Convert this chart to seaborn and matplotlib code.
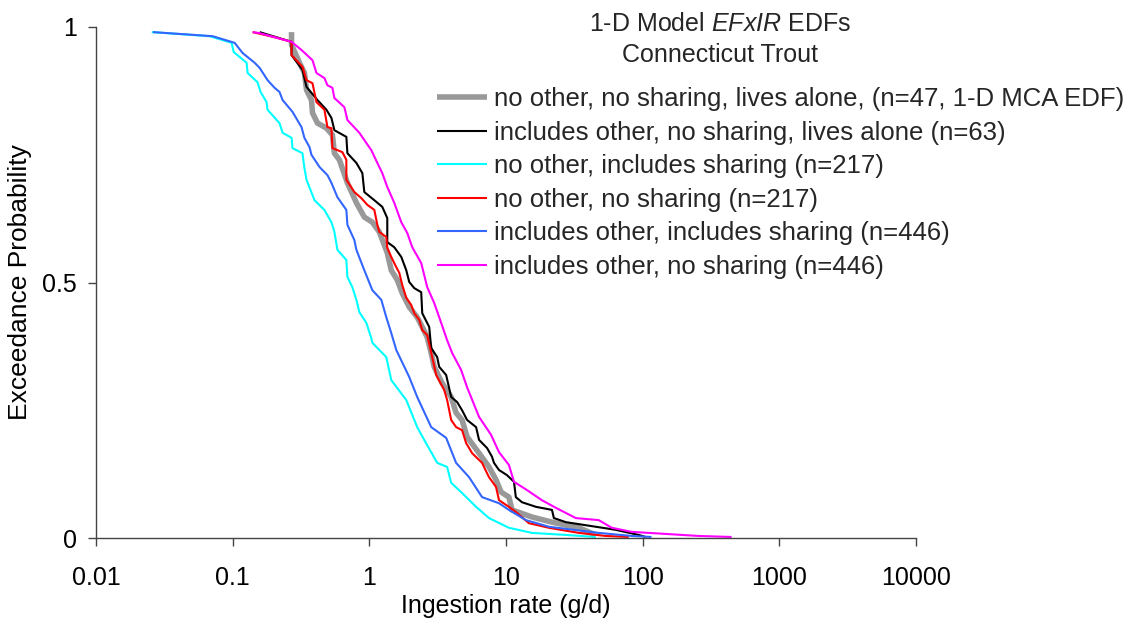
import matplotlib
matplotlib.use("Agg")
import matplotlib.pyplot as plt
import seaborn as sns
import pandas as pd

# ---------------- data ----------------
gray_x = [0.2696, 0.2696, 0.3083, 0.3354, 0.3468, 0.3773, 0.3837, 0.4173, 0.4855, 0.537, 0.555, 0.604,
          0.691, 0.804, 0.919, 1.052, 1.183, 1.353, 1.447, 1.601, 1.742, 1.959, 2.24, 2.438, 2.651, 2.835,
          2.982, 3.41, 3.97, 4.315, 4.77, 5.19, 6.35, 7.51, 8.45, 9.19, 10.5, 11.06, 15.5, 21.7, 34.1, 45.4]
gray_p = [0.990, 0.965, 0.930, 0.910, 0.877, 0.857, 0.832, 0.812, 0.802, 0.789, 0.753, 0.740, 0.695, 0.656,
          0.628, 0.618, 0.599, 0.558, 0.524, 0.505, 0.479, 0.452, 0.432, 0.413, 0.393, 0.362, 0.335, 0.303,
          0.276, 0.245, 0.231, 0.198, 0.166, 0.139, 0.114, 0.090, 0.080, 0.055, 0.041, 0.031, 0.020, 0.006]

black_x = [0.1575, 0.2696, 0.2696, 0.3243, 0.3468, 0.4173, 0.4855, 0.528, 0.555, 0.679, 0.691, 0.804, 0.889,
           0.919, 1.088, 1.244, 1.353, 1.353, 1.522, 1.713, 1.863, 1.959, 2.131, 2.397, 2.438, 2.742, 2.835,
           3.136, 3.243, 3.648, 3.97, 4.39, 4.77, 5.19, 6.04, 6.35, 7.27, 7.90, 8.17, 8.89, 10.17, 11.44, 11.8,
           13.09, 16.56, 21.7, 22.4, 27.4, 38.4, 63.5, 93.5, 105]
black_p = [0.990, 0.971, 0.945, 0.916, 0.883, 0.857, 0.838, 0.822, 0.798, 0.785, 0.753, 0.734, 0.714, 0.677,
           0.661, 0.648, 0.626, 0.579, 0.569, 0.550, 0.524, 0.501, 0.489, 0.481, 0.440, 0.413, 0.372, 0.354,
           0.335, 0.319, 0.276, 0.266, 0.250, 0.231, 0.217, 0.192, 0.176, 0.159, 0.147, 0.133, 0.123, 0.110,
           0.080, 0.070, 0.061, 0.055, 0.039, 0.031, 0.025, 0.016, 0.006, 0.002]

cyan_x = [0.0256, 0.0679, 0.0983, 0.1017, 0.1265, 0.1286, 0.152, 0.160, 0.177, 0.180, 0.220, 0.232, 0.270,
          0.274, 0.324, 0.335, 0.347, 0.397, 0.469, 0.528, 0.555, 0.584, 0.679, 0.691, 0.751, 0.804, 0.845,
          0.951, 1.034, 1.052, 1.331, 1.447, 1.863, 2.24, 2.52, 3.14, 3.71, 3.97, 4.77, 6.04, 7.51, 10.5, 15.5,
          27.4, 45.4]
cyan_p = [0.990, 0.982, 0.969, 0.951, 0.930, 0.910, 0.892, 0.873, 0.853, 0.838, 0.812, 0.793, 0.783, 0.763,
          0.753, 0.724, 0.701, 0.661, 0.642, 0.618, 0.599, 0.564, 0.544, 0.511, 0.491, 0.466, 0.442, 0.421,
          0.391, 0.382, 0.354, 0.309, 0.270, 0.217, 0.192, 0.147, 0.139, 0.108, 0.088, 0.061, 0.039, 0.020,
          0.010, 0.006, 0.002]

red_x = [0.140, 0.2026, 0.2696, 0.2696, 0.3243, 0.3468, 0.3837, 0.4103, 0.4693, 0.4937, 0.528, 0.537, 0.635,
         0.679, 0.679, 0.777, 0.874, 0.967, 1.088, 1.144, 1.183, 1.331, 1.353, 1.447, 1.574, 1.656, 1.742,
         1.863, 2.026, 2.131, 2.317, 2.438, 2.651, 2.884, 3.084, 3.527, 3.71, 3.97, 4.315, 4.77, 5.105, 5.65,
         6.68, 7.51, 8.45, 8.89, 10.5, 11.8, 14.7, 20.6, 34.1, 53.7, 79.0]
red_p = [0.990, 0.980, 0.971, 0.945, 0.922, 0.896, 0.890, 0.853, 0.838, 0.804, 0.802, 0.763, 0.755, 0.740,
         0.701, 0.677, 0.665, 0.652, 0.642, 0.613, 0.599, 0.589, 0.568, 0.550, 0.530, 0.519, 0.495, 0.470,
         0.456, 0.440, 0.427, 0.407, 0.397, 0.354, 0.319, 0.290, 0.270, 0.231, 0.217, 0.211, 0.186, 0.166,
         0.147, 0.119, 0.100, 0.074, 0.061, 0.051, 0.029, 0.020, 0.010, 0.004, 0.002]

blue_x = [0.0261, 0.0714, 0.1034, 0.1183, 0.1448, 0.1575, 0.180, 0.2026, 0.220, 0.232, 0.274, 0.319, 0.335,
          0.365, 0.377, 0.432, 0.494, 0.528, 0.584, 0.679, 0.691, 0.777, 0.804, 0.919, 1.052, 1.224, 1.331,
          1.447, 1.574, 1.959, 2.24, 2.835, 3.648, 4.315, 5.37, 6.68, 8.89, 10.5, 14.0, 20.6, 47.7, 83.2, 116]
blue_p = [0.990, 0.982, 0.969, 0.949, 0.930, 0.920, 0.896, 0.881, 0.873, 0.857, 0.834, 0.804, 0.783, 0.765,
          0.750, 0.726, 0.710, 0.695, 0.667, 0.642, 0.613, 0.583, 0.564, 0.524, 0.485, 0.466, 0.432, 0.401,
          0.368, 0.315, 0.276, 0.217, 0.196, 0.147, 0.119, 0.080, 0.068, 0.055, 0.035, 0.022, 0.010, 0.004,
          0.002]

magenta_x = [0.140, 0.1575, 0.2696, 0.3189, 0.3837, 0.4103, 0.4693, 0.4937, 0.537, 0.555, 0.657, 0.691, 0.845,
             0.951, 1.034, 1.144, 1.244, 1.353, 1.522, 1.713, 1.894, 2.061, 2.397, 2.651, 2.982, 3.354, 3.71,
             4.036, 4.693, 5.19, 6.35, 7.77, 8.89, 10.5, 11.44, 14.2, 18.3, 23.2, 32.4, 47.7, 59.4, 83.2, 147,
             256, 447]
magenta_p = [0.990, 0.988, 0.971, 0.955, 0.935, 0.910, 0.900, 0.886, 0.881, 0.861, 0.843, 0.818, 0.793, 0.773,
             0.759, 0.734, 0.714, 0.687, 0.656, 0.618, 0.597, 0.569, 0.538, 0.491, 0.460, 0.421, 0.387, 0.362,
             0.329, 0.295, 0.237, 0.202, 0.168, 0.143, 0.110, 0.094, 0.074, 0.059, 0.039, 0.035, 0.020, 0.012,
             0.008, 0.004, 0.002]

labels = [
    "no other, no sharing, lives alone, (n=47, 1-D MCA EDF)",
    "includes other, no sharing, lives alone (n=63)",
    "no other, includes sharing (n=217)",
    "no other, no sharing (n=217)",
    "includes other, includes sharing (n=446)",
    "includes other, no sharing (n=446)",
]
x_ticks = [0.01, 0.1, 1, 10, 100, 1000, 10000]
x_tick_labels = ["0.01", "0.1", "1", "10", "100", "1000", "10000"]
y_ticks = [0, 0.5, 1]
y_tick_labels = ["0", "0.5", "1"]

# ---------------- styling ----------------
sns.set_theme(style="white")
plt.rcParams["font.family"] = ["Liberation Sans", "DejaVu Sans"]
plt.rcParams["mathtext.fontset"] = "custom"
plt.rcParams["mathtext.rm"] = "Liberation Sans"
plt.rcParams["mathtext.it"] = "Liberation Sans:italic"

FS = 18
W, H = 1134, 621
fig = plt.figure(figsize=(W / 100, H / 100), dpi=100)
fig.patch.set_facecolor("white")
ax = fig.add_axes([96 / W, 1 - 538 / H, (916 - 96) / W, (538 - 27) / H])
ax.set_facecolor("white")

series = [
    (gray_x, gray_p, "#999999", 4.0),
    (black_x, black_p, "#000000", 1.5),
    (cyan_x, cyan_p, "#00FFFF", 1.5),
    (red_x, red_p, "#FF0000", 1.5),
    (blue_x, blue_p, "#3366FF", 1.5),
    (magenta_x, magenta_p, "#FF00FF", 1.5),
]
for (xs, ps, col, lw), lab in zip(series, labels):
    df = pd.DataFrame({"rate": xs, "prob": ps})
    sns.lineplot(data=df, x="rate", y="prob", ax=ax, sort=False, estimator=None,
                 color=col, linewidth=lw, label=lab, solid_capstyle="butt")

ax.set_xscale("log")
ax.set_xlim(0.01, 10000)
ax.set_ylim(0, 1)
ax.set_xticks(x_ticks)
ax.set_xticklabels(x_tick_labels)
ax.xaxis.set_minor_locator(matplotlib.ticker.NullLocator())
ax.set_yticks(y_ticks)
ax.set_yticklabels(y_tick_labels)

for s in ["top", "right"]:
    ax.spines[s].set_visible(False)
for s in ["left", "bottom"]:
    ax.spines[s].set_color("#444444")
    ax.spines[s].set_linewidth(1.0)

ax.tick_params(axis="x", direction="out", length=6, width=1, color="#444444",
               labelsize=FS, pad=14.5, labelcolor="black", bottom=True)
ax.tick_params(axis="y", direction="out", length=6, width=1, color="#444444",
               labelsize=FS, pad=8, labelcolor="black", left=True)

ax.set_xlabel("Ingestion rate (g/d)", fontsize=FS, color="black")
ax.set_ylabel("Exceedance Probability", fontsize=19, color="black")
ax.xaxis.label.set_verticalalignment("center")
ax.yaxis.label.set_verticalalignment("center")
ax.xaxis.set_label_coords(0.5, (538 - 606) / 511)
ax.yaxis.set_label_coords((20 - 96) / 820, 0.5)

fig.text(720 / W, 1 - 24 / H, "1-D Model $\\mathit{EFxIR}$ EDFs", ha="center", va="center", fontsize=FS)
fig.text(720 / W, 1 - 55 / H, "Connecticut Trout", ha="center", va="center", fontsize=FS)

ax.legend(loc="upper left", bbox_to_anchor=(437 / W, 1 - 87 / H), bbox_transform=fig.transFigure,
          frameon=False, handlelength=1.95, handletextpad=0.25, labelspacing=0.37,
          borderpad=0, borderaxespad=0, fontsize=18.5)

fig.savefig("out.png", dpi=100, facecolor="white")
